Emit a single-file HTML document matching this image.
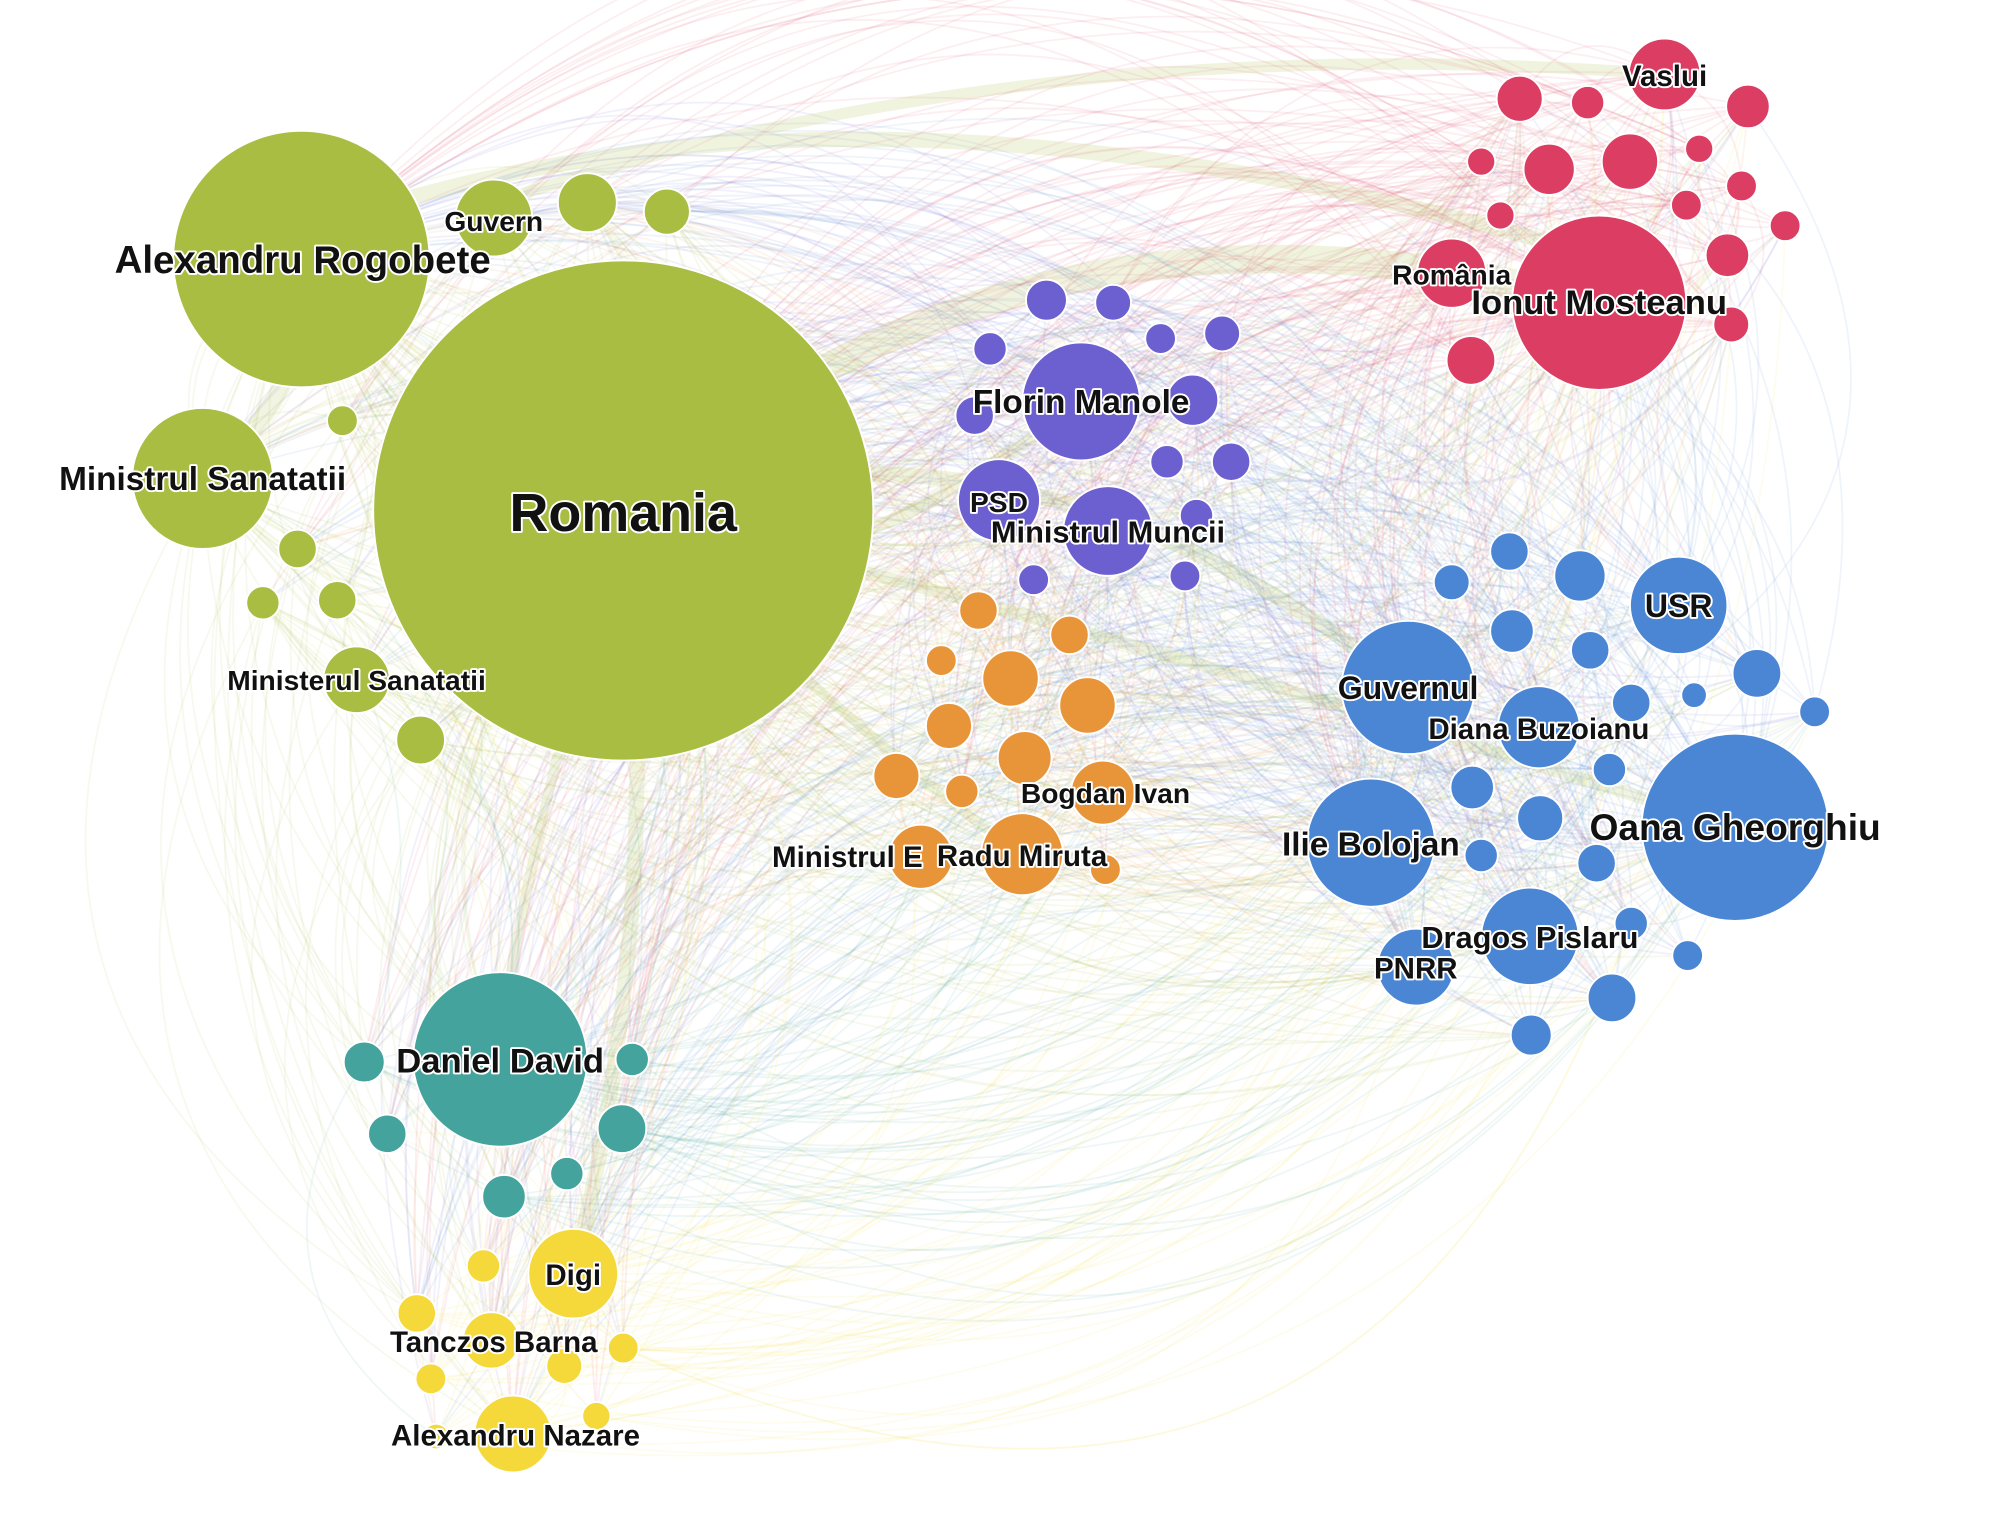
<!DOCTYPE html>
<html><head><meta charset="utf-8"><style>
html,body{margin:0;padding:0;background:#fff;width:1998px;height:1534px;overflow:hidden}
svg{display:block}
text{font-family:"Liberation Sans",sans-serif;font-weight:bold;fill:#111;stroke:#fff;stroke-width:3px;paint-order:stroke;stroke-linejoin:round}
</style></head><body>
<svg id="s" width="1998" height="1534" viewBox="0 0 1558 1196" preserveAspectRatio="none" xmlns="http://www.w3.org/2000/svg">
<g id="edges" fill="none" stroke-linecap="round"></g>
<g fill="none" stroke-linecap="round">
<g stroke="#a8bd42" opacity="0.16">
<path d="M486 398 Q800 120 1247 236" stroke-width="22"/>
<path d="M300 160 Q700 40 1247 200" stroke-width="12"/>
<path d="M380 160 Q800 20 1298 58" stroke-width="9"/>
<path d="M486 398 Q800 300 1098 536" stroke-width="12"/>
<path d="M486 398 Q900 500 1353 645" stroke-width="10"/>
<path d="M486 398 Q520 700 447 993" stroke-width="12"/>
<path d="M486 398 Q600 500 843 313" stroke-width="10"/>
<path d="M235 202 Q250 300 158 373" stroke-width="14"/>
<path d="M486 398 Q700 600 797 666" stroke-width="8"/>
<path d="M486 398 Q400 700 390 826" stroke-width="8"/>
</g>
</g>
<g id="nodes">
<g fill="#a8bd42" stroke="#fff" stroke-width="1.5">
<circle cx="486" cy="398" r="195"/><circle cx="235" cy="202" r="100"/><circle cx="158" cy="373" r="55"/>
<circle cx="385" cy="170" r="30"/><circle cx="458" cy="158" r="23"/><circle cx="520" cy="165" r="18"/>
<circle cx="267" cy="328" r="12"/><circle cx="232" cy="428" r="15"/><circle cx="205" cy="470" r="13"/>
<circle cx="263" cy="468" r="15"/><circle cx="278" cy="530" r="26"/><circle cx="328" cy="577" r="19"/>
</g>
<g fill="#6c5fcf" stroke="#fff" stroke-width="1.5">
<circle cx="843" cy="313" r="46"/><circle cx="816" cy="234" r="16"/><circle cx="868" cy="236" r="14"/>
<circle cx="905" cy="264" r="12"/><circle cx="953" cy="260" r="14"/><circle cx="772" cy="272" r="13"/>
<circle cx="930" cy="312" r="20"/><circle cx="760" cy="324" r="15"/><circle cx="779" cy="390" r="32"/>
<circle cx="864" cy="414" r="35"/><circle cx="910" cy="360" r="13"/><circle cx="960" cy="360" r="15"/>
<circle cx="933" cy="402" r="13"/><circle cx="806" cy="452" r="12"/><circle cx="924" cy="449" r="12"/>
</g>
<g fill="#e8953a" stroke="#fff" stroke-width="1.5">
<circle cx="763" cy="476" r="15"/><circle cx="834" cy="495" r="15"/><circle cx="734" cy="515" r="12"/>
<circle cx="788" cy="529" r="22"/><circle cx="848" cy="550" r="22"/><circle cx="740" cy="566" r="18"/>
<circle cx="799" cy="591" r="21"/><circle cx="699" cy="605" r="18"/><circle cx="750" cy="617" r="13"/>
<circle cx="860" cy="618" r="25"/><circle cx="718" cy="668" r="25"/><circle cx="797" cy="666" r="32"/>
<circle cx="862" cy="678" r="12"/>
</g>
<g fill="#dc3d63" stroke="#fff" stroke-width="1.5">
<circle cx="1247" cy="236" r="68"/><circle cx="1298" cy="58" r="28"/><circle cx="1185" cy="77" r="18"/>
<circle cx="1238" cy="80" r="13"/><circle cx="1363" cy="83" r="17"/><circle cx="1208" cy="132" r="20"/>
<circle cx="1271" cy="126" r="22"/><circle cx="1155" cy="126" r="11"/><circle cx="1325" cy="116" r="11"/>
<circle cx="1315" cy="160" r="12"/><circle cx="1358" cy="145" r="12"/><circle cx="1170" cy="168" r="11"/>
<circle cx="1392" cy="176" r="12"/><circle cx="1347" cy="199" r="17"/><circle cx="1132" cy="213" r="27"/>
<circle cx="1350" cy="253" r="14"/><circle cx="1147" cy="281" r="19"/>
</g>
<g fill="#4a86d4" stroke="#fff" stroke-width="1.5">
<circle cx="1353" cy="645" r="73"/><circle cx="1098" cy="536" r="52"/><circle cx="1069" cy="657" r="50"/>
<circle cx="1309" cy="472" r="38"/><circle cx="1200" cy="567" r="32"/><circle cx="1193" cy="730" r="38"/>
<circle cx="1104" cy="754" r="30"/><circle cx="1177" cy="430" r="15"/><circle cx="1232" cy="449" r="20"/>
<circle cx="1132" cy="454" r="14"/><circle cx="1179" cy="492" r="17"/><circle cx="1240" cy="507" r="15"/>
<circle cx="1370" cy="525" r="19"/><circle cx="1415" cy="555" r="12"/><circle cx="1321" cy="542" r="10"/>
<circle cx="1272" cy="548" r="15"/><circle cx="1148" cy="614" r="17"/><circle cx="1201" cy="638" r="18"/>
<circle cx="1255" cy="600" r="13"/><circle cx="1245" cy="673" r="15"/><circle cx="1155" cy="667" r="13"/>
<circle cx="1272" cy="720" r="13"/><circle cx="1316" cy="745" r="12"/><circle cx="1257" cy="778" r="19"/>
<circle cx="1194" cy="807" r="16"/>
</g>
<g fill="#45a39d" stroke="#fff" stroke-width="1.5">
<circle cx="390" cy="826" r="68"/><circle cx="284" cy="828" r="16"/><circle cx="493" cy="826" r="13"/>
<circle cx="302" cy="884" r="15"/><circle cx="485" cy="880" r="19"/><circle cx="442" cy="915" r="13"/>
<circle cx="393" cy="933" r="17"/>
</g>
<g fill="#f5d93a" stroke="#fff" stroke-width="1.5">
<circle cx="447" cy="993" r="35"/><circle cx="377" cy="987" r="13"/><circle cx="325" cy="1024" r="15"/>
<circle cx="383" cy="1045" r="22"/><circle cx="440" cy="1065" r="14"/><circle cx="486" cy="1051" r="12"/>
<circle cx="336" cy="1075" r="12"/><circle cx="400" cy="1118" r="30"/><circle cx="465" cy="1104" r="11"/>
<circle cx="340" cy="1120" r="10"/>
</g>
</g>
<text x="486" y="414" font-size="42" text-anchor="middle">Romania</text>
<text x="236" y="213" font-size="30" text-anchor="middle">Alexandru Rogobete</text>
<text x="158" y="382" font-size="26" text-anchor="middle">Ministrul Sanatatii</text>
<text x="385" y="180" font-size="22" text-anchor="middle">Guvern</text>
<text x="278" y="538" font-size="22" text-anchor="middle">Ministerul Sanatatii</text>
<text x="843" y="322" font-size="26" text-anchor="middle">Florin Manole</text>
<text x="779" y="399" font-size="22" text-anchor="middle">PSD</text>
<text x="864" y="423" font-size="24" text-anchor="middle">Ministrul Muncii</text>
<text x="862" y="626" font-size="22" text-anchor="middle">Bogdan Ivan</text>
<text x="602" y="676" font-size="23">Ministrul E</text>
<text x="797" y="675" font-size="23" text-anchor="middle">Radu Miruta</text>
<text x="1298" y="67" font-size="23" text-anchor="middle">Vaslui</text>
<text x="1132" y="222" font-size="22" text-anchor="middle">România</text>
<text x="1247" y="245" font-size="27" text-anchor="middle">Ionut Mosteanu</text>
<text x="1309" y="481" font-size="25" text-anchor="middle">USR</text>
<text x="1098" y="545" font-size="25" text-anchor="middle">Guvernul</text>
<text x="1200" y="576" font-size="23" text-anchor="middle">Diana Buzoianu</text>
<text x="1353" y="655" font-size="29" text-anchor="middle">Oana Gheorghiu</text>
<text x="1069" y="667" font-size="26" text-anchor="middle">Ilie Bolojan</text>
<text x="1193" y="739" font-size="24" text-anchor="middle">Dragos Pislaru</text>
<text x="1104" y="763" font-size="23" text-anchor="middle">PNRR</text>
<text x="390" y="836" font-size="27" text-anchor="middle">Daniel David</text>
<text x="447" y="1002" font-size="23" text-anchor="middle">Digi</text>
<text x="385" y="1054" font-size="23" text-anchor="middle">Tanczos Barna</text>
<text x="402" y="1127" font-size="23" text-anchor="middle">Alexandru Nazare</text>
</svg>
<script>
(function(){
var seed=12345;function rnd(){seed=(seed*1103515245+12345)%2147483648;return seed/2147483648;}
var nodes=[];
document.querySelectorAll('#nodes g').forEach(function(g){
 var col=g.getAttribute('fill');
 g.querySelectorAll('circle').forEach(function(c){
  nodes.push({x:+c.getAttribute('cx'),y:+c.getAttribute('cy'),r:+c.getAttribute('r'),c:col});
 });
});
var tot=0;nodes.forEach(function(n){tot+=n.r;});
function pick(){var t=rnd()*tot;for(var i=0;i<nodes.length;i++){t-=nodes[i].r;if(t<=0)return nodes[i];}return nodes[0];}
var eg=document.getElementById('edges');var ns='http://www.w3.org/2000/svg';
var html='';
for(var k=0;k<1400;k++){
 var a=pick(),b=pick();if(a===b)continue;
 var mx=(a.x+b.x)/2,my=(a.y+b.y)/2,dx=b.x-a.x,dy=b.y-a.y;
 var f=0.25+rnd()*0.3;
 var cx=mx-dy*f,cy=my+dx*f;
 html+='<path d="M'+a.x+' '+a.y+' Q'+cx.toFixed(1)+' '+cy.toFixed(1)+' '+b.x+' '+b.y+'" stroke="'+a.c+'" stroke-width="1.4" opacity="0.09"/>';
}
eg.innerHTML=html;
})();
</script>
</body></html>
